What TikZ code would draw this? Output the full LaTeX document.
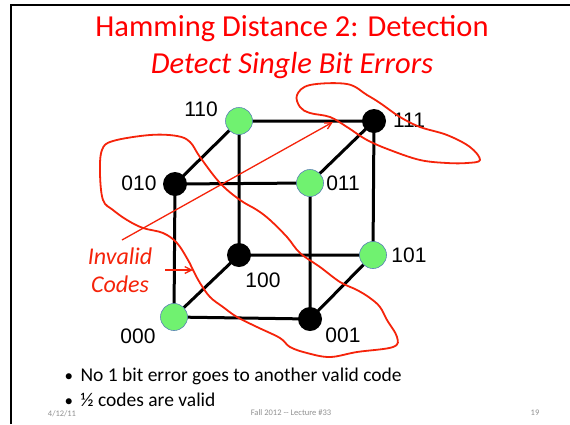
\documentclass[tikz,border=0pt]{standalone}
\usepackage{fontspec}
\setmainfont{Carlito}
\newfontfamily\bitfont{Liberation Sans}
\usetikzlibrary{arrows.meta,positioning,backgrounds}
\definecolor{slidered}{RGB}{255,0,0}
\definecolor{pen}{RGB}{245,35,10}
\definecolor{okgreen}{RGB}{112,242,112}
\definecolor{rim}{RGB}{90,130,180}
\definecolor{footgray}{RGB}{145,145,145}
\tikzset{
  >={Straight Barb[length=2.4mm,width=2.4mm]},
  valid/.style={circle,fill=okgreen,draw=rim,line width=0.6pt,minimum size=27pt,inner sep=0pt},
  invalid/.style={circle,fill=black,minimum size=24pt,inner sep=0pt},
  wire/.style={line width=3pt,draw=black},
  bits/.style={font=\bitfont\fontsize{21}{21}\selectfont},
  heading/.style={text=slidered,font=\fontsize{30.5}{31}\selectfont},
  point/.style={anchor=base west,font=\fontsize{19.5}{20}\selectfont},
  foot/.style={text=footgray,font=\fontsize{8.5}{9}\selectfont},
  scrawl/.style={draw=pen,line width=1.8pt,line join=round,line cap=round},
  note/.style={text=pen,align=center,font=\itshape\fontsize{24}{28}\selectfont},
}
\newcommand\dotmark{\makebox[16pt][l]{\fontsize{17}{17}\selectfont•}}
\begin{document}
\begin{tikzpicture}[x=1pt,y=-1pt]
  \useasboundingbox (0,0) rectangle (570,424);
  % slide frame
  \draw[line width=2pt] (11,424) -- (11,5) -- (570,5);

  % headings
  \node[heading] (title) at (292,29) {Hamming Distance 2: Detection};
  \node[heading,font=\itshape\fontsize{30.5}{31}\selectfont] (subtitle) at (292,66) {Detect Single Bit Errors};

  % cube corners: front face 0x0/0x1, back face 1x0/1x1
  \node[invalid] (c010) at (175,184) {};
  \node[valid]   (c011) at (310,183) {};
  \node[valid]   (c000) at (174,317) {};
  \node[invalid] (c001) at (310,319) {};
  \node[valid]   (c110) at (239,121) {};
  \node[invalid] (c111) at (374,121) {};
  \node[invalid] (c100) at (239,255) {};
  \node[valid]   (c101) at (373,255) {};

  % edges run under the corners
  \begin{scope}[on background layer]
    \fill[white] (0,0) rectangle (570,424);
    \draw[wire] (c010.center) -- (c011.center) -- (c001.center) -- (c000.center) -- cycle;
    \draw[wire] (c110.center) -- (c111.center) -- (c101.center) -- (c100.center) -- cycle;
    \draw[wire] (c010.center) -- (c110.center);
    \draw[wire] (c011.center) -- (c111.center);
    \draw[wire] (c001.center) -- (c101.center);
    \draw[wire] (c000.center) -- (c100.center);
  \end{scope}

  % corner labels
  \node[bits] (l110) at (201,109) {110};
  \node[bits] (l111) at (409,120) {111};
  \node[bits] (l010) at (139,183) {010};
  \node[bits] (l011) at (343,183) {011};
  \node[bits] (l100) at (263,280) {100};
  \node[bits] (l101) at (409,255) {101};
  \node[bits] (l000) at (138,336) {000};
  \node[bits] (l001) at (343,335) {001};

  % hand-drawn markup
  \draw[scrawl] plot[smooth cycle,tension=0.6] coordinates {
    (297,95) (310,85) (347,84) (367,95) (380,103) (400,117) (420,127)
    (447,135) (470,147) (480,160) (467,163) (447,163) (420,160)
    (390,150) (367,140) (347,127) (330,117) (310,113) (300,107)};
  \draw[scrawl] plot[smooth cycle,tension=0.6] coordinates {
    (113,141) (150,135) (177,136) (190,142) (200,157) (220,183)
    (240,200) (257,210) (270,220) (287,237) (300,253) (320,267)
    (340,282) (357,290) (370,298) (380,307) (387,320) (397,337)
    (393,347) (357,352) (330,357) (307,353) (290,347) (280,338)
    (257,327) (237,317) (223,307) (210,297) (200,283) (193,270)
    (188,260) (177,243) (163,233) (143,228) (127,220) (113,210)
    (103,200) (100,173) (102,150)};
  \node[note] (invalid) at (120,270) {Invalid\\Codes};
  \coordinate (tip111) at (333,122);
  \coordinate (tipband) at (193,270);
  \coordinate (tail111) at (122,240);
  \coordinate (tailband) at (165,270);
  \draw[->,draw=pen,line width=1.3pt] (tail111) -- (tip111);
  \draw[->,draw=pen,line width=1.3pt] (tailband) -- (tipband);

  % bullets
  \node[point] (b1) at (61,381) {\dotmark No 1 bit error goes to another valid code};
  \node[point] (b2) at (61,406) {\dotmark ½ codes are valid};

  % footer
  \node[foot] (date) at (62,414) {4/12/11};
  \node[foot] (course) at (291,413) {Fall 2012 {-}{-} Lecture \#33};
  \node[foot] (page) at (535,413) {19};
\end{tikzpicture}
\end{document}
